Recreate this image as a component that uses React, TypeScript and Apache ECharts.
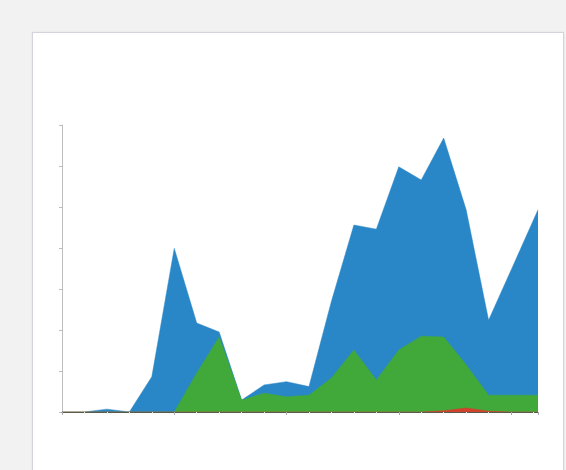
import React, { useEffect, useRef } from "react";
import * as echarts from "echarts";

// x positions (periods); the last point is a partial period
const xValues = [0, 1, 2, 3, 4, 5, 6, 7, 8, 9, 10, 11, 12, 13, 14, 15, 16, 17, 18, 19, 20, 21.2];
const redValues = [0, 0, 0, 0, 0, 0, 0, 0, 0, 0, 0, 0, 0, 0, 0, 0, 0, 0.3, 1.0, 0.2, 0, 0];
const greenValues = [0, 0, 0, 0, 0, 0, 9.5, 18.3, 2.9, 4.6, 3.7, 4.1, 8.3, 15.1, 7.8, 15.1, 18.5, 18.0, 10.5, 3.9, 4.1, 4.1];
const blueValues = [0, 0, 0.7, 0, 8.6, 39.9, 12.2, 1.2, 0, 2.0, 3.7, 2.1, 18.7, 30.5, 36.8, 44.7, 38.1, 48.5, 37.8, 18.3, 30.5, 45.2];

const yMax = 70;
const yInterval = 10;
const xInterval = 5;

const BLUE = "#2987c7";
const GREEN = "#41a93a";
const RED = "#d2402e";

// stacked tops: red at the bottom, green on red, blue on green
function stackTops(layers: number[][]) {
  const out: number[][] = [];
  let acc = xValues.map(() => 0);
  for (const layer of layers) {
    acc = acc.map((a, i) => a + layer[i]);
    out.push(acc.slice());
  }
  return out;
}

export default function App() {
  const ref = useRef<HTMLDivElement>(null);

  useEffect(() => {
    document.body.style.margin = "0";
    if (!ref.current) return;
    const chart = echarts.init(ref.current, undefined, { renderer: "svg" });
    const [redTop, greenTop, blueTop] = stackTops([redValues, greenValues, blueValues]);
    const mk = (name: string, tops: number[], color: string, z: number) => ({
      name,
      type: "line",
      data: tops.map((v, i) => [xValues[i], v]),
      symbol: "none",
      showSymbol: false,
      z,
      lineStyle: { width: 0.5, color },
      itemStyle: { color },
      areaStyle: { color, opacity: 1, origin: "start" },
      emphasis: { disabled: true },
    });
    chart.setOption({
      animation: false,
      backgroundColor: "transparent",
      grid: { left: 62, top: 125, right: 28, bottom: 58, containLabel: false },
      xAxis: {
        type: "value",
        min: 0,
        max: xValues[xValues.length - 1],
        interval: xInterval,
        axisLine: { show: true, onZero: false, lineStyle: { color: "#5a5a4a", width: 1 } },
        axisTick: { show: true, length: 3, lineStyle: { color: "#aaa" } },
        minorTick: { show: true, splitNumber: 5, length: 2, lineStyle: { color: "#ebebeb" } },
        axisLabel: { show: false },
        splitLine: { show: false },
        z: 10,
      },
      yAxis: {
        type: "value",
        min: 0,
        max: yMax,
        interval: yInterval,
        axisLine: { show: true, lineStyle: { color: "#bdbdbd", width: 1 } },
        axisTick: { show: true, length: 3, lineStyle: { color: "#bdbdbd" } },
        axisLabel: { show: false },
        splitLine: { show: false },
      },
      series: [mk("Blue", blueTop, BLUE, 2), mk("Green", greenTop, GREEN, 3), mk("Red", redTop, RED, 4)],
    });
    return () => chart.dispose();
  }, []);

  return (
    <div style={{ position: "fixed", left: 0, top: 0, width: 566, height: 470, background: "#f2f2f2", overflow: "hidden" }}>
      <div
        style={{
          position: "absolute",
          left: 32,
          top: 32,
          width: 530,
          height: 460,
          background: "#ffffff",
          border: "1px solid #d4d4dc",
          boxShadow: "0 0 2px rgba(0,0,0,0.08)",
        }}
      />
      <div ref={ref} style={{ position: "absolute", left: 0, top: 0, width: 566, height: 470 }} />
    </div>
  );
}
